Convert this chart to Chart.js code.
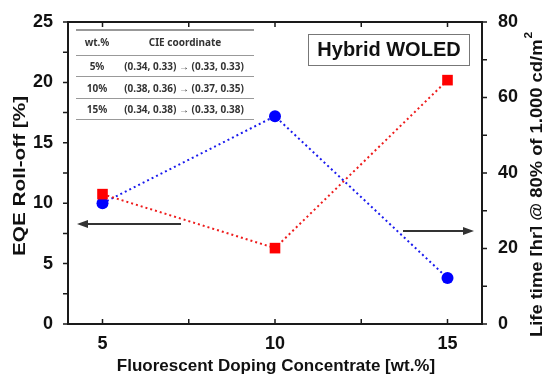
<!DOCTYPE html>
<html>
<head>
<meta charset="utf-8">
<script src="https://cdn.jsdelivr.net/npm/chart.js@4"></script>
<style>
  html, body { margin: 0; padding: 0; background: #fff; }
  #wrap { width: 542px; height: 374px; }
</style>
</head>
<body>
<div id="wrap"><canvas id="chart"></canvas></div>
<script>
// data
const dopingConc = [5, 10, 15];
const eqeRollOff = [10.0, 17.2, 3.8];      // left axis, blue circles
const lifeTime = [34.4, 20.1, 64.6];       // right axis, red squares
const xTickLabels = [5, 10, 15];
const leftTickLabels = [0, 5, 10, 15, 20, 25];
const rightTickLabels = [0, 20, 40, 60, 80];
const tableHead = ["wt.%", "CIE coordinate"];
const tableWt = ["5%", "10%", "15%"];
const tableCie = [
    "(0.34, 0.33) \u2192 (0.33, 0.33)",
    "(0.38, 0.36) \u2192 (0.37, 0.35)",
    "(0.34, 0.38) \u2192 (0.33, 0.38)"
];

const axisColor = "#1a1a1a";
const tickFont = { family: "Liberation Sans, Arial", size: 18, weight: "bold" };

function toPoints(xs, ys) {
    return xs.map((x, i) => ({ x: x, y: ys[i] }));
}

// frame, tick marks, titles, inset table, label box and arrows
const decorations = {
    id: "decorations",
    afterDraw(chart) {
        const ctx = chart.ctx;
        const a = chart.chartArea;
        const sx = chart.scales.x, sy = chart.scales.y, sy2 = chart.scales.y2;
        ctx.save();

        // top border
        ctx.strokeStyle = axisColor;
        ctx.lineWidth = 2;
        ctx.beginPath();
        ctx.moveTo(a.left - 1, a.top);
        ctx.lineTo(a.right + 1, a.top);
        ctx.stroke();

        // tick marks
        ctx.lineWidth = 1.5;
        ctx.beginPath();
        for (let v = 5; v <= 15; v += 2.5) {
            const px = sx.getPixelForValue(v);
            ctx.moveTo(px, a.bottom); ctx.lineTo(px, a.bottom - 5);
            ctx.moveTo(px, a.top); ctx.lineTo(px, a.top + 5);
        }
        for (let v = 0; v <= 25; v += 2.5) {
            const py = sy.getPixelForValue(v);
            ctx.moveTo(a.left, py); ctx.lineTo(a.left - 5, py);
        }
        for (let v = 0; v <= 80; v += 10) {
            const py = sy2.getPixelForValue(v);
            ctx.moveTo(a.right, py); ctx.lineTo(a.right + 5, py);
        }
        ctx.stroke();

        // axis titles
        ctx.fillStyle = "#111";
        ctx.font = "bold 17px Liberation Sans, Arial";
        ctx.textBaseline = "alphabetic";
        ctx.textAlign = "center";
        ctx.fillText("Fluorescent Doping Concentrate [wt.%]", (a.left + a.right) / 2 + 1, 371);

        ctx.save();
        ctx.translate(25, 176);
        ctx.rotate(-Math.PI / 2);
        ctx.scale(1.22, 1);
        ctx.fillText("EQE Roll-off [%]", 0, 0);
        ctx.restore();

        ctx.save();
        ctx.translate(542, 337);
        ctx.rotate(-Math.PI / 2);
        ctx.scale(1.08, 1);
        ctx.textAlign = "left";
        const mainTxt = "Life time [hr] @ 80% of 1,000 cd/m";
        ctx.fillText(mainTxt, 0, 0);
        const w = ctx.measureText(mainTxt).width;
        ctx.font = "bold 11px Liberation Sans, Arial";
        ctx.fillText("2", w + 1, -10);
        ctx.restore();

        // inset table
        const tl = 76, tr = 254;
        ctx.strokeStyle = "#333";
        ctx.lineWidth = 1.2;
        ctx.beginPath(); ctx.moveTo(tl, 30); ctx.lineTo(tr, 30); ctx.stroke();
        ctx.strokeStyle = "#999";
        ctx.lineWidth = 1;
        [55, 76, 98, 119].forEach(y => {
            ctx.beginPath(); ctx.moveTo(tl, y + 0.5); ctx.lineTo(tr, y + 0.5); ctx.stroke();
        });
        ctx.fillStyle = "#333";
        ctx.font = "bold 10px Noto Sans, Liberation Sans";
        ctx.textBaseline = "middle";
        ctx.textAlign = "center";
        ctx.fillText(tableHead[0], 97, 43);
        ctx.fillText(tableHead[1], 185, 43);
        const rowY = [67, 89, 110];
        tableWt.forEach((t, i) => {
            ctx.fillText(t, 97, rowY[i]);
            ctx.fillText(tableCie[i], 184, rowY[i]);
        });

        // label box
        ctx.strokeStyle = "#777";
        ctx.lineWidth = 1;
        ctx.strokeRect(308.5, 34.5, 161, 31);
        ctx.fillStyle = "#111";
        ctx.font = "bold 20px Liberation Sans, Arial";
        ctx.fillText("Hybrid WOLED", 389, 50.5);

        // arrows
        function arrow(x1, x2, y) {
            const dir = Math.sign(x2 - x1);
            ctx.strokeStyle = "#333";
            ctx.fillStyle = "#333";
            ctx.lineWidth = 2;
            ctx.beginPath();
            ctx.moveTo(x1, y); ctx.lineTo(x2 - dir * 8, y);
            ctx.stroke();
            ctx.beginPath();
            ctx.moveTo(x2, y);
            ctx.lineTo(x2 - dir * 11, y - 4);
            ctx.lineTo(x2 - dir * 11, y + 4);
            ctx.closePath();
            ctx.fill();
        }
        arrow(181, 77, 224);
        arrow(403, 474, 231);

        ctx.restore();
    }
};

new Chart(document.getElementById("chart"), {
    type: "line",
    data: {
        datasets: [
            {
                label: "Life time",
                data: toPoints(dopingConc, lifeTime),
                yAxisID: "y2",
                borderColor: "#ee1c1c",
                backgroundColor: "#ff0000",
                borderWidth: 2,
                borderDash: [2, 3],
                pointStyle: "rect",
                pointRadius: 7.5,
                pointBorderWidth: 0,
                tension: 0
            },
            {
                label: "EQE Roll-off",
                data: toPoints(dopingConc, eqeRollOff),
                yAxisID: "y",
                borderColor: "#1a1aee",
                backgroundColor: "#0000ff",
                borderWidth: 2,
                borderDash: [2, 3],
                pointStyle: "circle",
                pointRadius: 6,
                pointBorderWidth: 0,
                tension: 0
            }
        ]
    },
    options: {
        responsive: true,
        maintainAspectRatio: false,
        animation: false,
        layout: { padding: { top: 22, left: 0, right: 0, bottom: 0 } },
        plugins: {
            legend: { display: false },
            tooltip: { enabled: false }
        },
        scales: {
            x: {
                type: "linear",
                min: 4,
                max: 16,
                afterFit: s => { s.height = 50; },
                grid: { display: false },
                border: { display: true, color: axisColor, width: 2 },
                afterBuildTicks: s => { s.ticks = xTickLabels.map(v => ({ value: v })); },
                ticks: { color: "#111", font: tickFont, padding: 1, maxRotation: 0 }
            },
            y: {
                position: "left",
                min: 0,
                max: 25,
                afterFit: s => { s.width = 68; },
                grid: { display: false },
                border: { display: true, color: axisColor, width: 2 },
                afterBuildTicks: s => { s.ticks = leftTickLabels.map(v => ({ value: v })); },
                ticks: { color: "#111", font: tickFont, padding: 7 }
            },
            y2: {
                position: "right",
                min: 0,
                max: 80,
                afterFit: s => { s.width = 60; },
                grid: { display: false },
                border: { display: true, color: axisColor, width: 2 },
                afterBuildTicks: s => { s.ticks = rightTickLabels.map(v => ({ value: v })); },
                ticks: { color: "#111", font: tickFont, padding: 8 }
            }
        }
    },
    plugins: [decorations]
});
</script>
</body>
</html>
